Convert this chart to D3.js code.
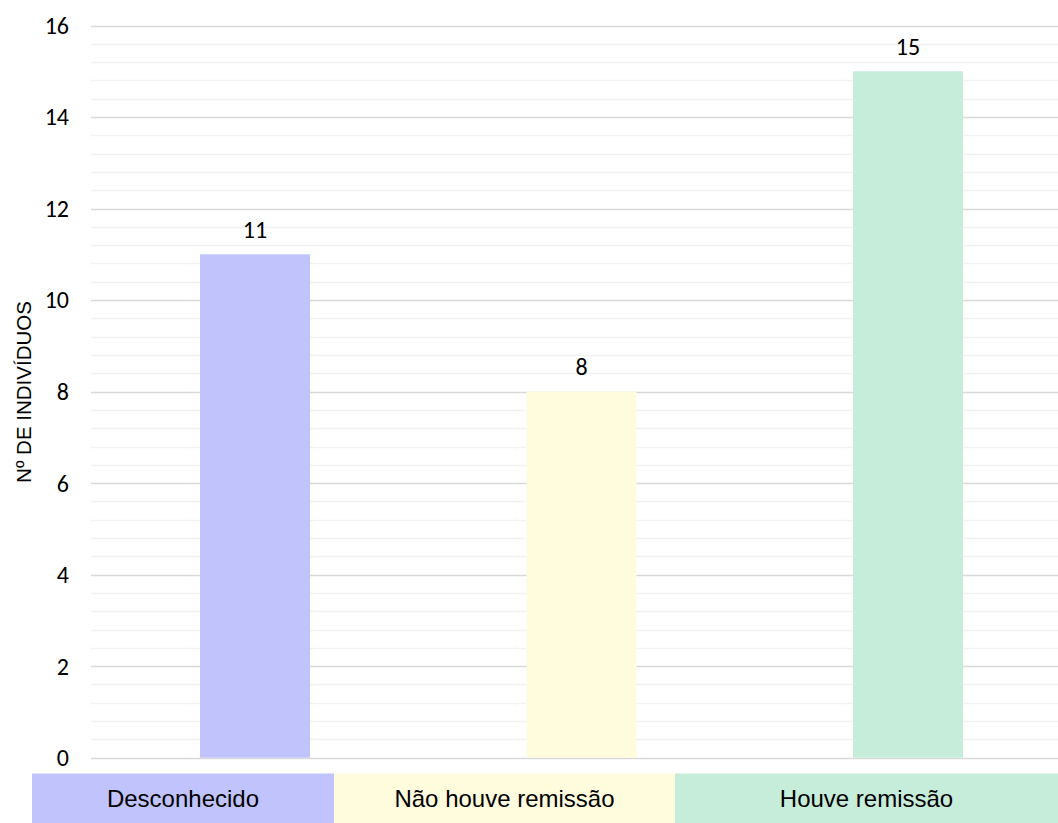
<!DOCTYPE html>
<html>
<head>
<meta charset="utf-8">
<script src="https://cdn.jsdelivr.net/npm/d3@7"></script>
<style>
  html, body { margin: 0; padding: 0; background: #fff; }
  svg { display: block; }
</style>
</head>
<body>
<div id="chart"></div>
<script>
// Categories, counts and colours
const categories = ["Desconhecido", "Não houve remissão", "Houve remissão"];
const counts = [11, 8, 15];
const colors = ["#c1c3fc", "#fffbdd", "#c6ecda"];
const yTicks = [0, 2, 4, 6, 8, 10, 12, 14, 16];
const yTitle = "Nº DE INDIVÍDUOS";

const W = 1058, H = 823;
const svg = d3.select("#chart").append("svg")
  .attr("width", W).attr("height", H);

const numFont = "Carlito, Lato, 'Open Sans', sans-serif";
const labelFont = "'Liberation Sans', Arial, sans-serif";

const plotLeft = 91, plotTop = 25.5, plotBottom = 757.7;
const x = d3.scaleBand()
  .domain(categories)
  .range([91.75, 1071.25])
  .paddingInner(0.663)
  .paddingOuter(0.3315);
const y = d3.scaleLinear().domain([0, 16]).range([plotBottom, plotTop]);

// minor gridlines every 0.4
const minor = d3.range(0, 16.0001, 0.4).filter(v => Math.abs(v / 2 - Math.round(v / 2)) > 1e-6);
svg.append("g").selectAll("line").data(minor).join("line")
  .attr("x1", plotLeft).attr("x2", W)
  .attr("y1", d => Math.round(y(d)) + 0.5).attr("y2", d => Math.round(y(d)) + 0.5)
  .attr("stroke", "#f2f2f2").attr("stroke-width", 1.3);

// major gridlines
svg.append("g").selectAll("line").data(yTicks).join("line")
  .attr("x1", plotLeft).attr("x2", W)
  .attr("y1", d => Math.round(y(d)) + 0.5).attr("y2", d => Math.round(y(d)) + 0.5)
  .attr("stroke", "#d9d9d9").attr("stroke-width", 1.3);

// y tick labels
const yAxis = d3.axisLeft(y).tickValues(yTicks).tickSize(0).tickPadding(0);
const gy = svg.append("g").attr("transform", "translate(69,0)").call(yAxis)
  .attr("font-family", numFont).attr("font-size", 24);
gy.select(".domain").remove();
gy.selectAll("text").attr("fill", "#000").attr("dy", "0.33em");

// y axis title
svg.append("text")
  .attr("transform", "translate(31,392) rotate(-90)")
  .attr("text-anchor", "middle")
  .attr("font-family", labelFont)
  .attr("font-size", 20.5).attr("fill", "#000")
  .text(yTitle);

// bars
const data = categories.map((c, i) => ({ c, v: counts[i], color: colors[i] }));
svg.append("g").selectAll("rect").data(data).join("rect")
  .attr("x", d => x(d.c))
  .attr("width", x.bandwidth())
  .attr("y", d => y(d.v))
  .attr("height", d => y(0) - y(d.v))
  .attr("fill", d => d.color);

// value labels
svg.append("g").selectAll("text").data(data).join("text")
  .attr("x", d => x(d.c) + x.bandwidth() / 2)
  .attr("y", d => y(d.v) - 16.5)
  .attr("text-anchor", "middle")
  .attr("font-family", numFont)
  .attr("font-size", 24).attr("fill", "#000")
  .text(d => d.v);

// category boxes below the axis
const boxEdges = [32, 334, 675, W];
const boxTop = 773.5;
const boxes = svg.append("g").selectAll("g").data(data).join("g");
boxes.append("rect")
  .attr("x", (d, i) => boxEdges[i])
  .attr("width", (d, i) => boxEdges[i + 1] - boxEdges[i])
  .attr("y", boxTop).attr("height", H - boxTop)
  .attr("fill", d => d.color);
boxes.append("text")
  .attr("x", (d, i) => (boxEdges[i] + boxEdges[i + 1]) / 2)
  .attr("y", boxTop + (H - boxTop) / 2)
  .attr("dy", "0.36em")
  .attr("text-anchor", "middle")
  .attr("font-family", labelFont)
  .attr("font-size", 24).attr("fill", "#000")
  .text(d => d.c);
</script>
</body>
</html>
